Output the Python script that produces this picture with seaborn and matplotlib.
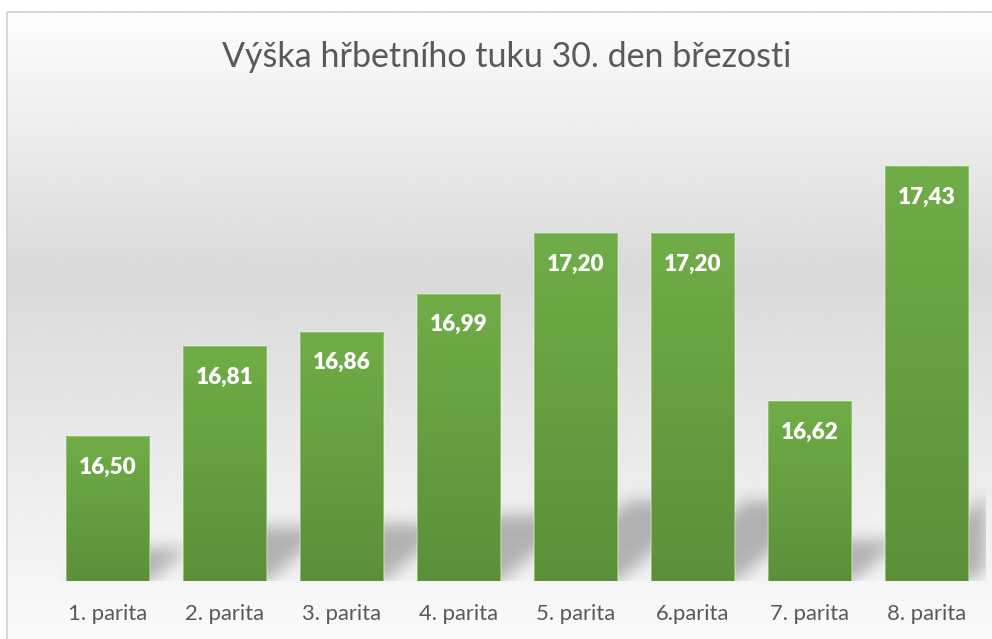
import numpy as np
import matplotlib
matplotlib.use("Agg")
import matplotlib.pyplot as plt
import seaborn as sns
from matplotlib.colors import LinearSegmentedColormap
from matplotlib.patches import Rectangle

# ---- data ----
categories = ["1. parita", "2. parita", "3. parita", "4. parita",
              "5. parita", "6.parita", "7. parita", "8. parita"]
values = [16.50, 16.81, 16.86, 16.99, 17.20, 17.20, 16.62, 17.43]
value_labels = ["16,50", "16,81", "16,86", "16,99", "17,20", "17,20", "16,62", "17,43"]
title = "Výška hřbetního tuku 30. den březosti"
y_min, y_max = 16.0, 17.6

W, H = 992, 639
sns.set_style("white")
plt.rcParams['font.family'] = ['Lato', 'DejaVu Sans']

fig = plt.figure(figsize=(W / 100, H / 100), dpi=100)
fig.patch.set_facecolor("white")

# ---- background (chart area gradient + frame) ----
bg = fig.add_axes([0, 0, 1, 1], zorder=0)
bg.set_xlim(0, W)
bg.set_ylim(H, 0)
bg.axis('off')
ys = np.linspace(12, H, 700)
g = np.interp(ys, [12, 273, 639], [0.992, 0.851, 0.982])
img = np.repeat(g[:, None], 2, axis=1)
bg.imshow(img, cmap='gray', vmin=0, vmax=1, extent=(7, W, H, 12),
          aspect='auto', interpolation='bilinear')
bg.plot([6.5, 6.5], [H, 11.5], color='#d4d4d4', lw=1.3, solid_capstyle='butt')
bg.plot([6.5, W], [11.5, 11.5], color='#d4d4d4', lw=1.3, solid_capstyle='butt')
bg.set_xlim(0, W)
bg.set_ylim(H, 0)

# ---- main axes ----
ax = fig.add_axes([49 / W, 1 - 581 / H, 936 / W, (581 - 117) / H], zorder=1)
ax.patch.set_alpha(0)
sns.barplot(x=categories, y=values, color="#66a040", saturation=1, width=0.71,
            ax=ax, zorder=2)
ax.set_ylim(y_min, y_max)
ax.set_xlim(-0.5, 7.5)

top_c = "#70ad47"
bot_c = "#5c8f3a"
bar_cmap = LinearSegmentedColormap.from_list("barg", [top_c, bot_c])
grad = np.linspace(0, 1, 256)[:, None]

patches = list(ax.patches)
for p in patches:
    x0 = p.get_x()
    w = p.get_width()
    top = p.get_y() + p.get_height()
    im = ax.imshow(grad, extent=(x0, x0 + w, y_min, top), origin='upper',
                   aspect='auto', cmap=bar_cmap, zorder=2.1, interpolation='bilinear')
    im.set_clip_path(p)
    ax.add_patch(Rectangle((x0, y_min), w, top - y_min, fill=False,
                           ec='#93c273', lw=0.7, zorder=2.2))

# ---- perspective shadows ----
nx, ny = 936, 464
sxp = nx / 8.0
syp = ny / (y_max - y_min)
Xg, Yg = np.meshgrid(np.arange(nx) + 0.5, np.arange(ny) + 0.5)
mask = np.zeros((ny, nx))
for p in patches:
    x0p = (p.get_x() + 0.5) * sxp + 2
    x1p = x0p + p.get_width() * sxp
    hp = (p.get_y() + p.get_height() - y_min) * syp
    Hs = 0.23 * hp
    dx = 1.15 * Hs
    t = Yg / Hs
    inside = (Yg <= Hs) & (Xg >= x0p + t * dx) & (Xg <= x1p + t * dx)
    mask = np.maximum(mask, inside.astype(float))

sigma = 8.0
r = int(3 * sigma)
k = np.exp(-0.5 * (np.arange(-r, r + 1) / sigma) ** 2)
k /= k.sum()
padm = np.pad(mask, ((r, r), (r, r)))
blur = np.apply_along_axis(lambda v: np.convolve(v, k, mode='same'), 1, padm)
blur = np.apply_along_axis(lambda v: np.convolve(v, k, mode='same'), 0, blur)
blur = blur[r:-r, r:-r]
rgba = np.zeros((ny, nx, 4))
rgba[..., 3] = 0.27 * blur
ax.imshow(rgba, extent=(-0.5, 7.5, y_min, y_max), origin='lower',
          aspect='auto', zorder=1.5, interpolation='bilinear')
ax.set_ylim(y_min, y_max)
ax.set_xlim(-0.5, 7.5)

# ---- axes cosmetics ----
for s in ax.spines.values():
    s.set_visible(False)
ax.set_yticks([])
ax.set_xlabel("")
ax.set_ylabel("")
ax.tick_params(axis='x', length=0, pad=28, labelsize=15.5, labelcolor='#595959')
for lab in ax.get_xticklabels():
    lab.set_va('baseline')

# ---- data labels ----
texts = []
for p, lbl in zip(patches, value_labels):
    xc = p.get_x() + p.get_width() / 2
    top = p.get_y() + p.get_height()
    t = ax.annotate(lbl, (xc, top), xytext=(0, -27), textcoords='offset points',
                    ha='center', va='baseline', color='white', fontweight='heavy',
                    fontsize=16, zorder=4)
    texts.append(t)

ttl = fig.text(506.5 / W, 1 - 67 / H, title, ha='center', va='baseline',
               fontsize=22, color='#595959', fontweight='normal')

# ---- fit font sizes to reference widths ----
fig.canvas.draw()
rend = fig.canvas.get_renderer()
bw = ttl.get_window_extent(rend).width
ttl.set_fontsize(22 * 567 / bw)
lw0 = ax.get_xticklabels()[0].get_window_extent(rend).width
ax.tick_params(axis='x', labelsize=15.5 * 79 / lw0)
for lab in ax.get_xticklabels():
    lab.set_va('baseline')
dw = texts[0].get_window_extent(rend).width
for t in texts:
    t.set_fontsize(16 * 58 / dw)

fig.savefig("out.png", dpi=100)
